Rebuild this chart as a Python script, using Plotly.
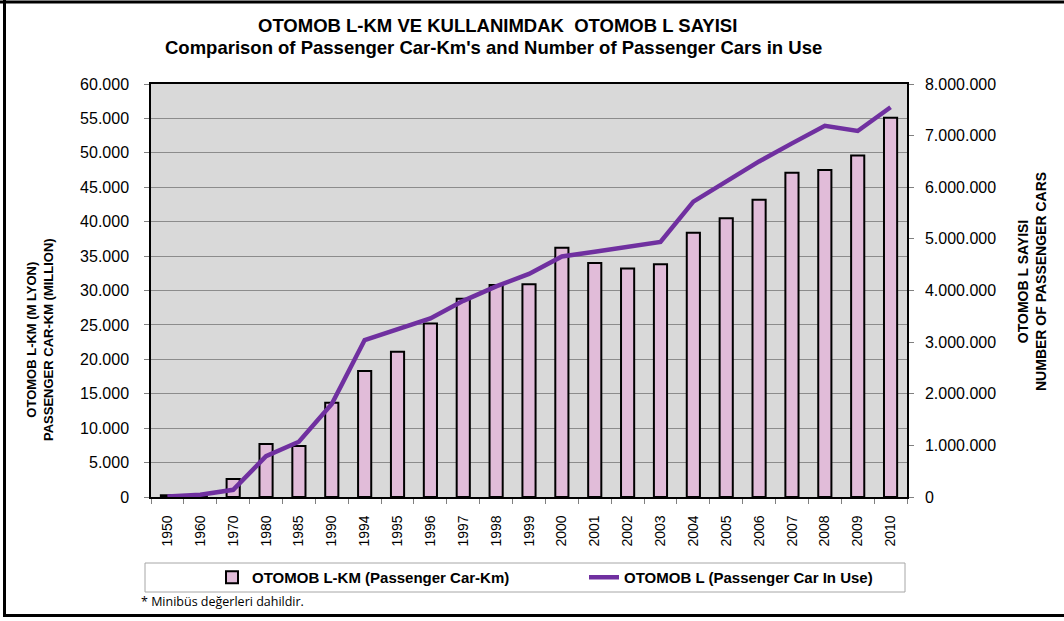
import plotly.graph_objects as go

years = ['1950', '1960', '1970', '1980', '1985', '1990', '1994', '1995', '1996', '1997', '1998', '1999',
         '2000', '2001', '2002', '2003', '2004', '2005', '2006', '2007', '2008', '2009', '2010']
car_km = [250, 300, 2600, 7700, 7400, 13700, 18300, 21100, 25200, 28800, 30800, 30900,
          36200, 34000, 33200, 33800, 38400, 40500, 43200, 47100, 47500, 49600, 55100]
cars_in_use = [10000, 45000, 140000, 790000, 1070000, 1800000, 3040000, 3260000, 3460000, 3800000, 4080000, 4320000,
               4660000, 4750000, 4840000, 4940000, 5720000, 6110000, 6500000, 6850000, 7190000, 7090000, 7550000]

bar_name = "<b>OTOMOB L-KM (Passenger Car-Km)</b>"
line_name = "<b>OTOMOB L (Passenger Car In Use)</b>"
title1 = "<b>OTOMOB L-KM VE KULLANIMDAK  OTOMOB L SAYISI</b>"
title2 = "<b>Comparison of Passenger Car-Km's and Number of Passenger Cars in Use</b>"
ytitle_left = "<b>OTOMOB L-KM (M LYON)<br>PASSENGER CAR-KM (MILLION)</b>"
ytitle_right = "<b>OTOMOB L SAYISI<br>NUMBER OF PASSENGER CARS</b>"
footnote = "* Minibüs değerleri dahildir."

W, H = 1064, 621
L, R, T, B = 151, 157, 84, 124
PW, PH = W - L - R, H - T - B


def px(x):
    return (x - L) / PW


def py(y):
    return (H - B - y) / PH


FONT = "Liberation Sans, Arial, sans-serif"

fig = go.Figure()
fig.add_trace(go.Bar(
    x=years, y=car_km, name=bar_name, width=0.4,
    marker=dict(color="#e1bcd9", line=dict(color="black", width=2)),
    yaxis="y",
))
fig.add_trace(go.Scatter(
    x=years, y=cars_in_use, name=line_name, mode="lines",
    line=dict(color="#7030a0", width=4.5),
    yaxis="y2",
))

shapes = [
    # legend box
    dict(type="rect", xref="paper", yref="paper", x0=px(145), x1=px(905), y0=py(563), y1=py(592),
         line=dict(color="#a6a6a6", width=1), fillcolor="white", layer="below"),
    # outer frame
    dict(type="line", xref="paper", yref="paper", x0=px(0), x1=px(W), y0=py(2), y1=py(2),
         line=dict(color="black", width=3)),
    dict(type="line", xref="paper", yref="paper", x0=px(4.5), x1=px(4.5), y0=py(0), y1=py(617),
         line=dict(color="black", width=3)),
    dict(type="line", xref="paper", yref="paper", x0=px(3), x1=px(W), y0=py(615.5), y1=py(615.5),
         line=dict(color="black", width=3)),
]

annotations = [
    dict(text=title1, x=px(497), y=py(25), xref="paper", yref="paper", showarrow=False,
         font=dict(family=FONT, size=18.5, color="black"), xanchor="center", yanchor="middle"),
    dict(text=title2, x=px(493), y=py(48), xref="paper", yref="paper", showarrow=False,
         font=dict(family=FONT, size=18.5, color="black"), xanchor="center", yanchor="middle"),
    dict(text=ytitle_left, x=px(40), y=py(340), xref="paper", yref="paper", showarrow=False,
         textangle=-90, font=dict(family=FONT, size=13, color="black"), xanchor="center", yanchor="middle"),
    dict(text=ytitle_right, x=px(1032), y=py(282), xref="paper", yref="paper", showarrow=False,
         textangle=-90, font=dict(family=FONT, size=14, color="black"), xanchor="center", yanchor="middle"),
    dict(text=footnote, x=px(139), y=py(601), xref="paper", yref="paper", showarrow=False,
         font=dict(family="Open Sans, sans-serif", size=12.5, color="black"), xanchor="left", yanchor="middle"),
]

fig.update_layout(
    width=W, height=H,
    margin=dict(l=L, r=R, t=T, b=B),
    paper_bgcolor="white",
    plot_bgcolor="#d9d9d9",
    separators=",.",
    showlegend=True,
    legend=dict(orientation="h", x=px(212), y=py(577.5), xanchor="left", yanchor="middle",
                bgcolor="rgba(0,0,0,0)", entrywidth=327, entrywidthmode="pixels",
                font=dict(family=FONT, size=15, color="black"), traceorder="normal"),
    xaxis=dict(type="category", showgrid=False, ticks="outside", tickson="boundaries", ticklen=5,
               tickcolor="#808080", tickangle=-90, tickfont=dict(family=FONT, size=14, color="black"),
               showline=True, linecolor="black", linewidth=1.5, mirror=True, ticklabelstandoff=11),
    yaxis=dict(range=[0, 60000], dtick=5000, tickformat=",.0f", showgrid=True, gridcolor="#8c8c8c",
               gridwidth=1, ticks="outside", ticklen=5, tickcolor="#808080",
               tickfont=dict(family=FONT, size=16, color="black"),
               showline=True, linecolor="black", linewidth=1.5, zeroline=False, ticklabelstandoff=12),
    yaxis2=dict(range=[0, 8000000], dtick=1000000, tickformat=",.0f", overlaying="y", side="right",
                showgrid=False, ticks="outside", ticklen=5, tickcolor="#808080",
                tickfont=dict(family=FONT, size=16, color="black"),
                showline=True, linecolor="black", linewidth=1.5, zeroline=False, ticklabelstandoff=8),
    shapes=shapes,
    annotations=annotations,
    bargap=0.6,
)

fig.write_html("out.html", config={"displayModeBar": False},
               post_script="document.body.style.margin='0';document.body.style.overflow='hidden';")
